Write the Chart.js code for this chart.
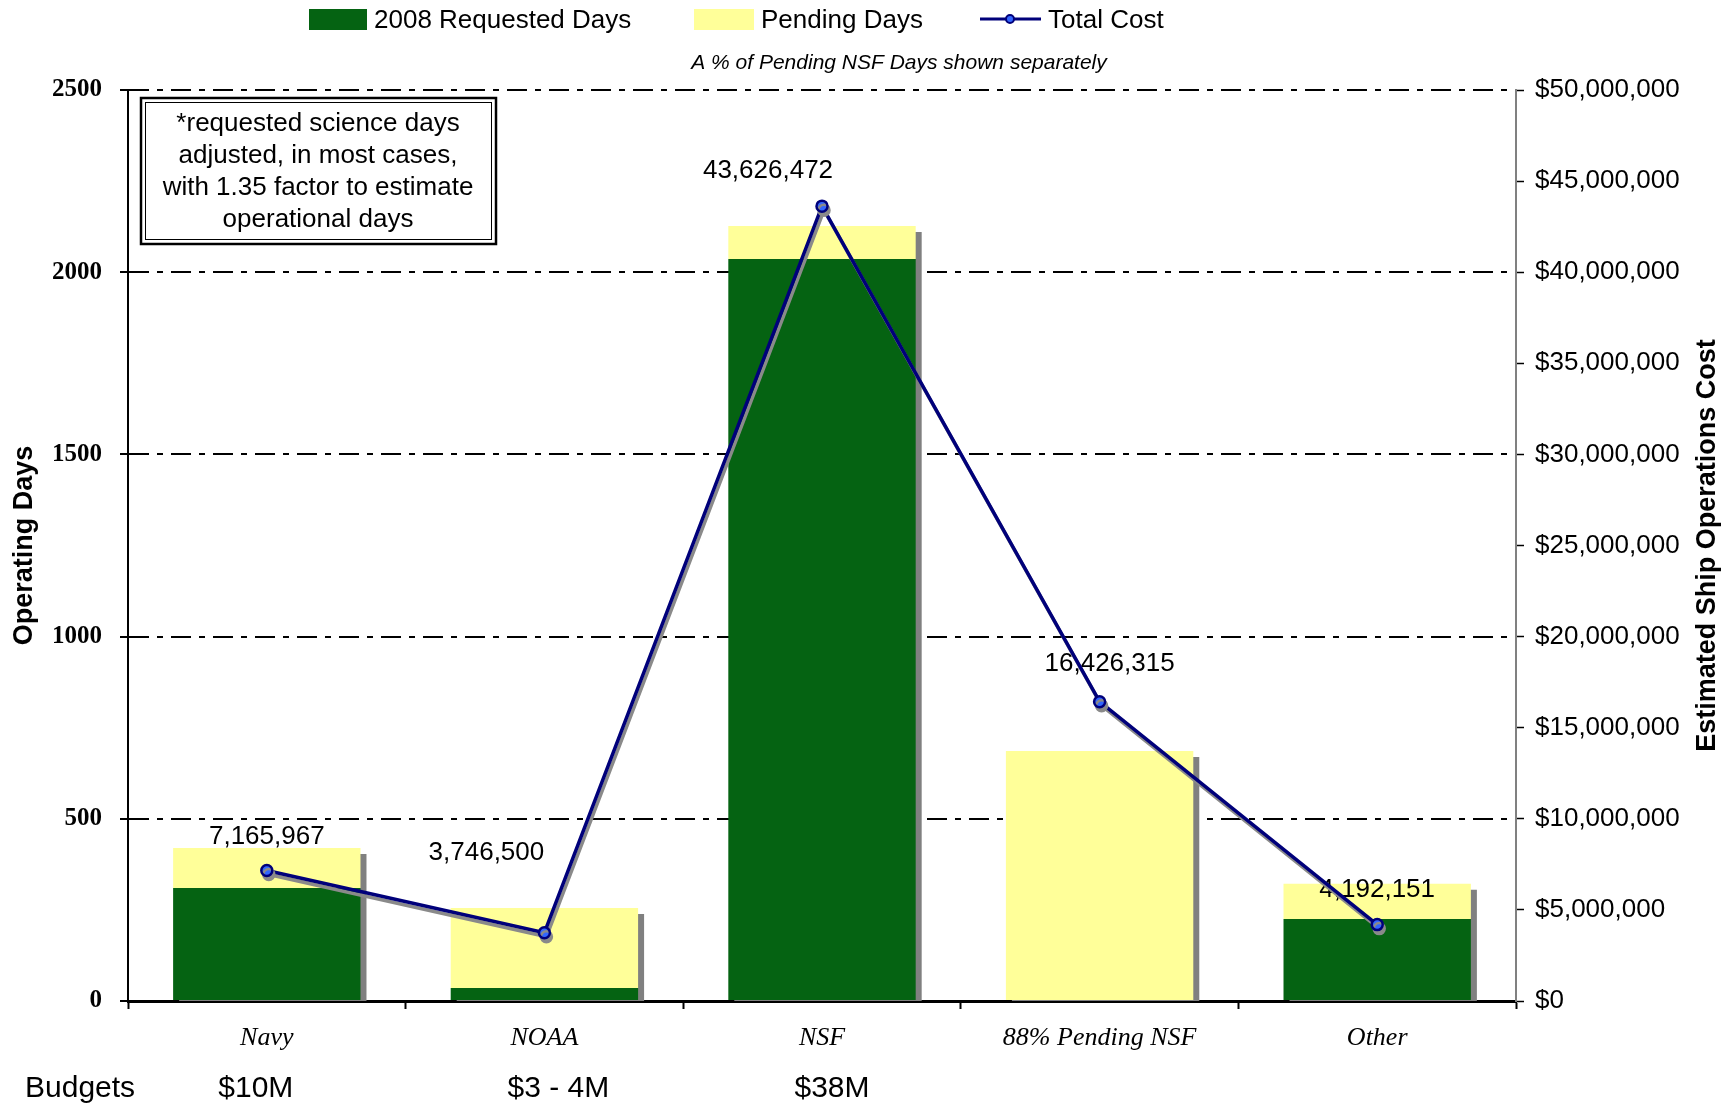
<!DOCTYPE html>
<html>
<head>
<meta charset="utf-8">
<title>Operating Days and Estimated Ship Operations Cost</title>
<script src="https://cdn.jsdelivr.net/npm/chart.js@4.4.0/dist/chart.umd.min.js"></script>
<style>
    html, body { margin: 0; padding: 0; background: #ffffff; }
    #wrap { position: relative; width: 1733px; height: 1105px; }
</style>
</head>
<body>
<div id="wrap"><canvas id="opsChart" width="1733" height="1105"></canvas></div>
<script>
// ---- values ----
const categories = ['Navy', 'NOAA', 'NSF', '88% Pending NSF', 'Other'];
const requestedDays = [310, 36, 2036, 0, 225];
const pendingDays = [110, 219, 91, 686, 97];
const totalCost = [7165967, 3746500, 43626472, 16426315, 4192151];
const dayTicks = [0, 500, 1000, 1500, 2000, 2500];
const costTicks = [0, 5000000, 10000000, 15000000, 20000000, 25000000,
                   30000000, 35000000, 40000000, 45000000, 50000000];
const budgetLabels = ['$10M', '$3 - 4M', '$38M'];
const noteLines = ['*requested science days', 'adjusted, in most cases,',
                   'with 1.35 factor to estimate', 'operational days'];

// ---- look ----
const SANS = 'Liberation Sans, Arial, sans-serif';
const SERIF = 'Liberation Serif, Times New Roman, serif';
const GREEN = '#056312';
const YELLOW = '#ffff99';
const NAVY = '#00007a';

// hand-placed label nudges (Excel labels were dragged around)
const costLabelNudge = [[0, -34], [-58, -80], [-54, -35], [10, -38], [0, -35]];
const budgetNudge = [-11, 14, 10];

const fmt = v => v.toLocaleString('en-US');

const decorations = {
    id: 'decorations',

    beforeDatasetDraw(chart, args) {
        const ds = chart.data.datasets[args.index];
        const ctx = chart.ctx;

        // cost labels sit under the line
        if (ds.type === 'line') {
            const pts = chart.getDatasetMeta(args.index).data;
            ctx.save();
            ctx.font = '26px ' + SANS;
            ctx.fillStyle = '#000';
            ctx.textAlign = 'center';
            ctx.textBaseline = 'middle';
            pts.forEach((p, i) => {
                ctx.fillText(fmt(totalCost[i]), p.x + costLabelNudge[i][0], p.y + costLabelNudge[i][1]);
            });
            ctx.restore();
        }

        ctx.save();
        ctx.shadowBlur = 0;
        if (ds.type === 'line') {
            ctx.shadowColor = '#8a8a8a';
            ctx.shadowOffsetX = 2;
            ctx.shadowOffsetY = 4;
        } else {
            ctx.shadowColor = '#808080';
            ctx.shadowOffsetX = 6;
            ctx.shadowOffsetY = 6;
        }
    },

    afterDatasetDraw(chart) {
        chart.ctx.restore();
    },

    afterDraw(chart) {
        const ctx = chart.ctx;
        const area = chart.chartArea;
        const x = chart.scales.x;
        ctx.save();
        ctx.fillStyle = '#000';
        ctx.textBaseline = 'middle';

        // legend
        const ds = chart.data.datasets;
        ctx.font = '26px ' + SANS;
        ctx.textAlign = 'left';
        ctx.fillStyle = GREEN;
        ctx.fillRect(309, 9, 58, 21);
        ctx.fillStyle = '#000';
        ctx.fillText(ds[0].label, 374, 21);
        ctx.fillStyle = YELLOW;
        ctx.fillRect(694, 9, 60, 21);
        ctx.fillStyle = '#000';
        ctx.fillText(ds[1].label, 761, 21);
        ctx.strokeStyle = NAVY;
        ctx.lineWidth = 3;
        ctx.beginPath();
        ctx.moveTo(980, 19);
        ctx.lineTo(1041, 19);
        ctx.stroke();
        ctx.beginPath();
        ctx.arc(1010, 19, 4, 0, Math.PI * 2);
        ctx.fillStyle = '#3366ff';
        ctx.fill();
        ctx.lineWidth = 2;
        ctx.stroke();
        ctx.fillStyle = '#000';
        ctx.fillText(ds[2].label, 1048, 21);

        // subtitle
        ctx.font = 'italic 21px ' + SANS;
        ctx.textAlign = 'center';
        ctx.fillText('A % of Pending NSF Days shown separately', 899, 63);

        // note box, double border
        ctx.fillStyle = '#fff';
        ctx.fillRect(140, 97, 357, 148);
        ctx.strokeStyle = '#000';
        ctx.lineWidth = 2.5;
        ctx.strokeRect(141, 98, 355, 146);
        ctx.lineWidth = 1;
        ctx.strokeRect(145.5, 102.5, 346, 137);
        ctx.fillStyle = '#000';
        ctx.font = '26px ' + SANS;
        noteLines.forEach((line, i) => ctx.fillText(line, 318, 124 + i * 32));

        // right axis title, reads bottom to top
        ctx.save();
        ctx.translate(1708, (area.top + area.bottom) / 2);
        ctx.rotate(-Math.PI / 2);
        ctx.font = 'bold 27px ' + SANS;
        ctx.fillText('Estimated Ship Operations Cost', 0, 0);
        ctx.restore();

        // budgets row
        ctx.font = '30px ' + SANS;
        ctx.textAlign = 'left';
        ctx.fillText('Budgets', 25, 1089);
        ctx.textAlign = 'center';
        budgetLabels.forEach((b, i) => {
            ctx.fillText(b, x.getPixelForValue(i) + budgetNudge[i], 1089);
        });

        ctx.restore();
    }
};

Chart.defaults.font.family = SANS;
Chart.defaults.color = '#000';

new Chart(document.getElementById('opsChart'), {
    type: 'bar',
    data: {
        labels: categories,
        datasets: [
            {
                label: '2008 Requested Days',
                data: requestedDays,
                backgroundColor: GREEN,
                borderWidth: 0,
                yAxisID: 'y',
                order: 1,
                barPercentage: 0.675,
                categoryPercentage: 1.0
            },
            {
                label: 'Pending Days',
                data: pendingDays,
                backgroundColor: YELLOW,
                borderWidth: 0,
                yAxisID: 'y',
                order: 2,
                barPercentage: 0.675,
                categoryPercentage: 1.0
            },
            {
                type: 'line',
                label: 'Total Cost',
                data: totalCost,
                yAxisID: 'y1',
                order: 0,
                borderColor: NAVY,
                borderWidth: 3.5,
                tension: 0,
                pointRadius: 5.5,
                pointBorderWidth: 2.5,
                pointBorderColor: NAVY,
                pointBackgroundColor: '#3366ff'
            }
        ]
    },
    options: {
        responsive: false,
        animation: false,
        devicePixelRatio: 1,
        layout: { padding: { top: 90, left: 0, right: 27, bottom: 44 } },
        plugins: {
            legend: { display: false },
            tooltip: { enabled: false }
        },
        scales: {
            x: {
                stacked: true,
                offset: true,
                afterFit: s => { s.height = 60; },
                grid: {
                    offset: true,
                    drawOnChartArea: false,
                    drawTicks: true,
                    tickLength: 8,
                    tickColor: '#000',
                    tickWidth: 2
                },
                border: { color: '#000', width: 3 },
                ticks: {
                    font: { family: SERIF, size: 26, style: 'italic' },
                    color: '#000',
                    padding: 14,
                    maxRotation: 0
                }
            },
            y: {
                stacked: true,
                position: 'left',
                min: dayTicks[0],
                max: dayTicks[dayTicks.length - 1],
                afterFit: s => { s.width = 128; },
                grid: {
                    color: '#000',
                    lineWidth: 2,
                    tickLength: 8,
                    tickColor: '#000',
                    tickWidth: 2,
                    tickBorderDash: []
                },
                border: { color: '#000', width: 2, dash: [20, 8, 6, 8] },
                ticks: {
                    stepSize: dayTicks[1] - dayTicks[0],
                    font: { family: SERIF, size: 25, weight: 'bold' },
                    color: '#000',
                    padding: 18,
                    callback: v => String(v)
                },
                title: {
                    display: true,
                    text: 'Operating Days',
                    font: { family: SANS, size: 27, weight: 'bold' },
                    color: '#000',
                    padding: { top: 8, bottom: 0 }
                }
            },
            y1: {
                position: 'right',
                min: costTicks[0],
                max: costTicks[costTicks.length - 1],
                afterFit: s => { s.width = 190; },
                grid: {
                    drawOnChartArea: false,
                    tickLength: 8,
                    tickColor: '#000',
                    tickWidth: 1.5
                },
                border: { color: '#808080', width: 2 },
                ticks: {
                    stepSize: costTicks[1] - costTicks[0],
                    font: { family: SANS, size: 26 },
                    color: '#000',
                    padding: 11,
                    callback: v => '$' + fmt(v)
                }
            }
        }
    },
    plugins: [decorations]
});
</script>
</body>
</html>
